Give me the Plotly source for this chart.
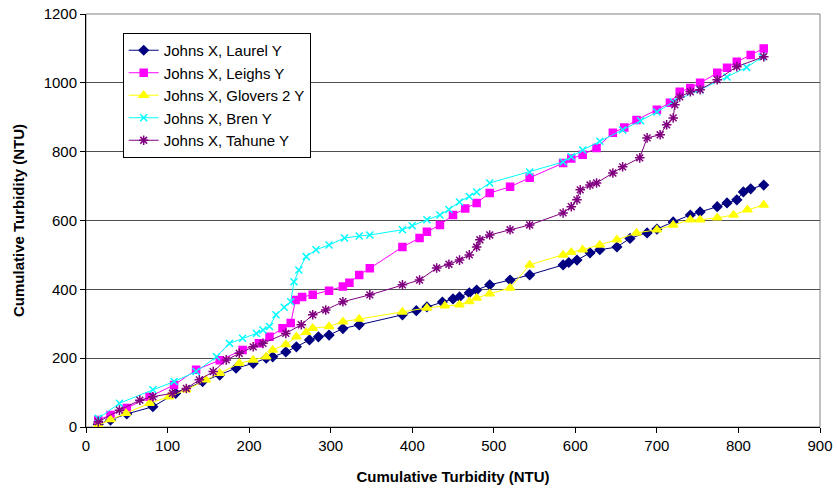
import plotly.graph_objects as go

# Johns X, Laurel Y
laurel_x = [15, 30, 50, 82, 110, 143, 164, 184, 205, 221, 229, 245, 258, 274, 285, 298, 315, 335, 388, 405, 418, 437, 450, 458, 470, 479, 495, 520, 544, 585, 592, 602, 618, 630, 651, 667, 688, 700, 720, 741, 753, 774, 786, 798, 806, 815, 831]
laurel_y = [8, 20, 38, 59, 98, 132, 151, 171, 185, 200, 204, 218, 233, 253, 262, 267, 286, 297, 326, 338, 349, 363, 372, 378, 390, 398, 413, 427, 442, 471, 478, 485, 506, 515, 523, 548, 564, 575, 596, 616, 625, 640, 651, 660, 683, 692, 703]

# Johns X, Leighs Y
leighs_x = [15, 30, 50, 78, 108, 135, 164, 192, 212, 225, 241, 251, 257, 265, 278, 298, 315, 323, 335, 348, 388, 409, 418, 434, 450, 465, 479, 495, 520, 544, 585, 595, 609, 626, 646, 660, 675, 700, 716, 728, 741, 753, 774, 786, 798, 815, 831]
leighs_y = [20, 35, 55, 88, 122, 166, 194, 224, 243, 262, 287, 302, 369, 378, 384, 396, 408, 419, 442, 461, 523, 549, 567, 587, 616, 635, 651, 680, 698, 724, 767, 780, 791, 811, 855, 870, 892, 922, 942, 974, 985, 1000, 1029, 1044, 1061, 1081, 1100]

# Johns X, Glovers 2 Y
glovers_x = [15, 30, 49, 78, 102, 123, 147, 164, 188, 205, 221, 229, 245, 258, 270, 278, 298, 315, 335, 388, 418, 440, 458, 470, 479, 495, 520, 544, 585, 595, 609, 630, 651, 675, 700, 720, 741, 753, 774, 794, 811, 831]
glovers_y = [6, 22, 40, 69, 88, 108, 137, 156, 185, 195, 204, 224, 240, 262, 275, 287, 292, 306, 314, 334, 346, 352, 355, 365, 375, 387, 404, 471, 500, 508, 515, 529, 544, 564, 573, 587, 602, 602, 608, 616, 631, 645]

# Johns X, Bren Y
bren_x = [15, 41, 82, 108, 135, 160, 176, 192, 209, 217, 225, 233, 243, 251, 255, 261, 270, 282, 298, 317, 335, 348, 388, 400, 418, 434, 445, 458, 470, 479, 495, 544, 585, 595, 609, 630, 658, 680, 700, 720, 753, 786, 810, 829]
bren_y = [25, 69, 108, 132, 161, 204, 243, 258, 272, 282, 292, 326, 348, 364, 422, 456, 495, 515, 529, 549, 555, 558, 573, 585, 602, 616, 632, 654, 670, 683, 709, 741, 770, 785, 805, 830, 863, 890, 915, 945, 980, 1017, 1045, 1075]

# Johns X, Tahune Y
tahune_x = [15, 41, 66, 82, 106, 123, 139, 156, 172, 188, 205, 217, 245, 264, 278, 294, 315, 348, 388, 409, 430, 445, 458, 470, 479, 483, 495, 520, 544, 585, 595, 602, 606, 618, 626, 646, 658, 679, 688, 704, 712, 720, 722, 728, 741, 753, 774, 798, 831]
tahune_y = [15, 49, 78, 88, 98, 112, 137, 161, 195, 214, 233, 243, 272, 297, 326, 340, 364, 384, 413, 427, 462, 473, 485, 500, 523, 544, 558, 573, 587, 622, 640, 660, 689, 703, 709, 738, 756, 782, 840, 849, 878, 898, 936, 959, 974, 980, 1009, 1047, 1076]

x_ticks = [0, 100, 200, 300, 400, 500, 600, 700, 800, 900]
y_ticks = [0, 200, 400, 600, 800, 1000, 1200]

series = [
    ("Johns X, Laurel Y", laurel_x, laurel_y, "#000080", "diamond", 7),
    ("Johns X, Leighs Y", leighs_x, leighs_y, "#FF00FF", "square", 7),
    ("Johns X, Glovers 2 Y", glovers_x, glovers_y, "#FFFF00", "triangle-up", 8),
    ("Johns X, Bren Y", bren_x, bren_y, "#00FFFF", "x-thin-open", 7),
    ("Johns X, Tahune Y", tahune_x, tahune_y, "#800080", "asterisk-open", 8),
]

fig = go.Figure()
for name, xs, ys, col, sym, sz in series:
    fig.add_trace(go.Scatter(
        x=xs, y=ys, name=name, mode="lines+markers",
        line=dict(color=col, width=1),
        marker=dict(symbol=sym, size=sz, color=col, line=dict(color=col, width=1.5)),
    ))

font_family = "Liberation Sans, Arial, sans-serif"
fig.update_layout(
    width=837, height=492,
    margin=dict(l=86, r=17, t=14, b=65),
    paper_bgcolor="white", plot_bgcolor="white",
    font=dict(family=font_family, size=15, color="black"),
    showlegend=True,
    legend=dict(
        x=0.05, y=0.954, xanchor="left", yanchor="top",
        bordercolor="black", borderwidth=1, bgcolor="white",
        font=dict(size=15, family=font_family, color="black"),
        tracegroupgap=0, itemwidth=30,
    ),
    shapes=[dict(type="rect", xref="paper", yref="paper", x0=0, y0=0, x1=1, y1=1,
                 line=dict(color="#808080", width=1), layer="below")],
)
fig.update_xaxes(
    range=[0, 900], tickvals=x_ticks, ticktext=[str(v) for v in x_ticks],
    showgrid=False, zeroline=False, automargin=False,
    showline=True, linecolor="black", linewidth=1,
    ticks="outside", ticklen=5, tickcolor="black",
    title=dict(text="<b>Cumulative Turbidity (NTU)</b>", font=dict(size=15), standoff=18),
)
fig.update_yaxes(
    range=[0, 1200], tickvals=y_ticks, ticktext=[str(v) for v in y_ticks],
    showgrid=True, gridcolor="#505050", gridwidth=1, zeroline=False, automargin=False,
    showline=True, linecolor="black", linewidth=1,
    ticks="outside", ticklen=5, tickcolor="black",
    title=dict(text="<b>Cumulative Turbidity (NTU)</b>", font=dict(size=15), standoff=15),
)

fig.write_html("out.html")
